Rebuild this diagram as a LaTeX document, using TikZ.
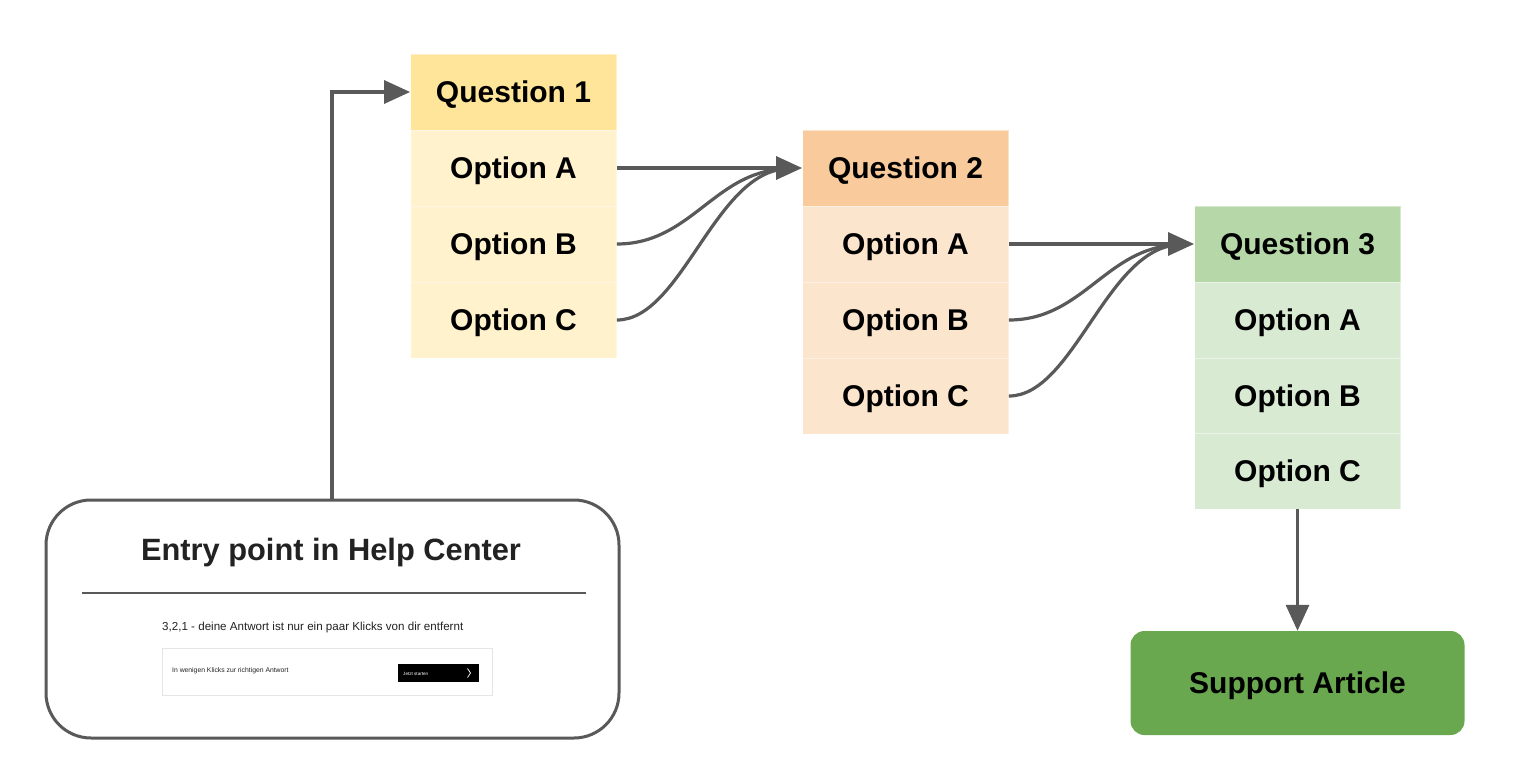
\documentclass[tikz,border=0pt]{standalone}
\usepackage{fontspec}
\setmainfont{Liberation Sans}
\usetikzlibrary{arrows.meta,calc}

\definecolor{lineg}{HTML}{595959}
\definecolor{qone}{HTML}{FFE599}
\definecolor{qonelt}{HTML}{FFF2CC}
\definecolor{qtwo}{HTML}{F9CB9C}
\definecolor{qtwolt}{HTML}{FCE5CD}
\definecolor{qthree}{HTML}{B6D7A8}
\definecolor{qthreelt}{HTML}{D9EAD3}
\definecolor{article}{HTML}{6AA84F}
\definecolor{inkdark}{HTML}{222222}

\tikzset{
  cell/.style={minimum width=206, minimum height=76, inner sep=0pt,
    font=\fontsize{30}{36}\selectfont\bfseries, text=black, text depth=0pt,
    draw=white, draw opacity=0.45, line width=0.8pt},
  conn/.style={draw=lineg, line width=3.2pt},
  tip/.style={-{Triangle[length=26pt,width=23pt]}},
  smalltxt/.style={inner sep=0pt, anchor=base west, text=inkdark}
}

\begin{document}
\begin{tikzpicture}[x=1pt,y=-1pt]
\useasboundingbox (0,0) rectangle (1514,768);

% question 1 column
\node[cell, fill=qone]   (q1)  at (513.5,92)  {Question 1};
\node[cell, fill=qonelt] (q1a) at (513.5,168) {Option A};
\node[cell, fill=qonelt] (q1b) at (513.5,244) {Option B};
\node[cell, fill=qonelt] (q1c) at (513.5,320) {Option C};

% question 2 column
\node[cell, fill=qtwo]   (q2)  at (905.5,168) {Question 2};
\node[cell, fill=qtwolt] (q2a) at (905.5,244) {Option A};
\node[cell, fill=qtwolt] (q2b) at (905.5,320) {Option B};
\node[cell, fill=qtwolt] (q2c) at (905.5,396) {Option C};

% question 3 column
\node[cell, fill=qthree]   (q3)  at (1297.5,244) {Question 3};
\node[cell, fill=qthreelt] (q3a) at (1297.5,320) {Option A};
\node[cell, fill=qthreelt] (q3b) at (1297.5,396) {Option B};
\node[cell, fill=qthreelt] (q3c) at (1297.5,471) {Option C};

% final article
\node[fill=article, rounded corners=14pt, minimum width=334, minimum height=104,
      font=\fontsize{30}{36}\selectfont\bfseries, text=black, text depth=0pt] (art) at (1297.5,683) {Support Article};

% entry point card
\node[draw=lineg, line width=3pt, fill=white, rounded corners=45pt,
      minimum width=573, minimum height=238] (entry) at (332.5,619) {};
\node[font=\fontsize{30.8}{36}\selectfont\bfseries, text=inkdark, text depth=0pt] (etitle) at (331,549) {Entry point in Help Center};
\coordinate (ruleL) at (82,593);
\coordinate (ruleR) at (586,593);
\draw[lineg, line width=1.5pt] (ruleL) -- (ruleR);
\node[smalltxt, font=\fontsize{11.6}{13}\selectfont] (hctext) at (162,630.5)
  {3,2,1 - deine Antwort ist nur ein paar Klicks von dir entfernt};
\node[draw=black!10, line width=0.8pt, minimum width=330, minimum height=47, inner sep=0pt]
  (hcbox) at (327,671.5) {};
\node[smalltxt, font=\fontsize{6.8}{8}\selectfont] (hcline) at (172,672)
  {In wenigen Klicks zur richtigen Antwort};
\node[fill=black, minimum width=81, minimum height=18, inner sep=0pt] (hcbtn) at (438.5,673) {};
\node[smalltxt, text=white, font=\fontsize{4.6}{6}\selectfont] (hcbtntxt) at (403,675) {Jetzt starten};
\draw[white, line width=0.7pt] (467.5,668.5) -- (470.5,673) -- (467.5,677.5);

% connectors
\coordinate (bend) at (332,92);
\draw[conn, tip] (entry.north -| bend) -- (bend) -- (q1.west);

\draw[conn, tip] (q1a.east) -- (q2.west);
\draw[conn] (q1b.east) .. controls ($(q1b.east)+(74,0)$) and ($(q2.west)+(-88,4)$) .. ($(q2.west)+(-18,1)$);
\draw[conn] (q1c.east) .. controls ($(q1c.east)+(64,0)$) and ($(q2.west)+(-88,7)$) .. ($(q2.west)+(-18,1)$);

\draw[conn, tip] (q2a.east) -- (q3.west);
\draw[conn] (q2b.east) .. controls ($(q2b.east)+(74,0)$) and ($(q3.west)+(-88,4)$) .. ($(q3.west)+(-18,1)$);
\draw[conn] (q2c.east) .. controls ($(q2c.east)+(64,0)$) and ($(q3.west)+(-88,7)$) .. ($(q3.west)+(-18,1)$);

\draw[conn, tip] (q3c.south) -- (art.north);
\end{tikzpicture}
\end{document}
